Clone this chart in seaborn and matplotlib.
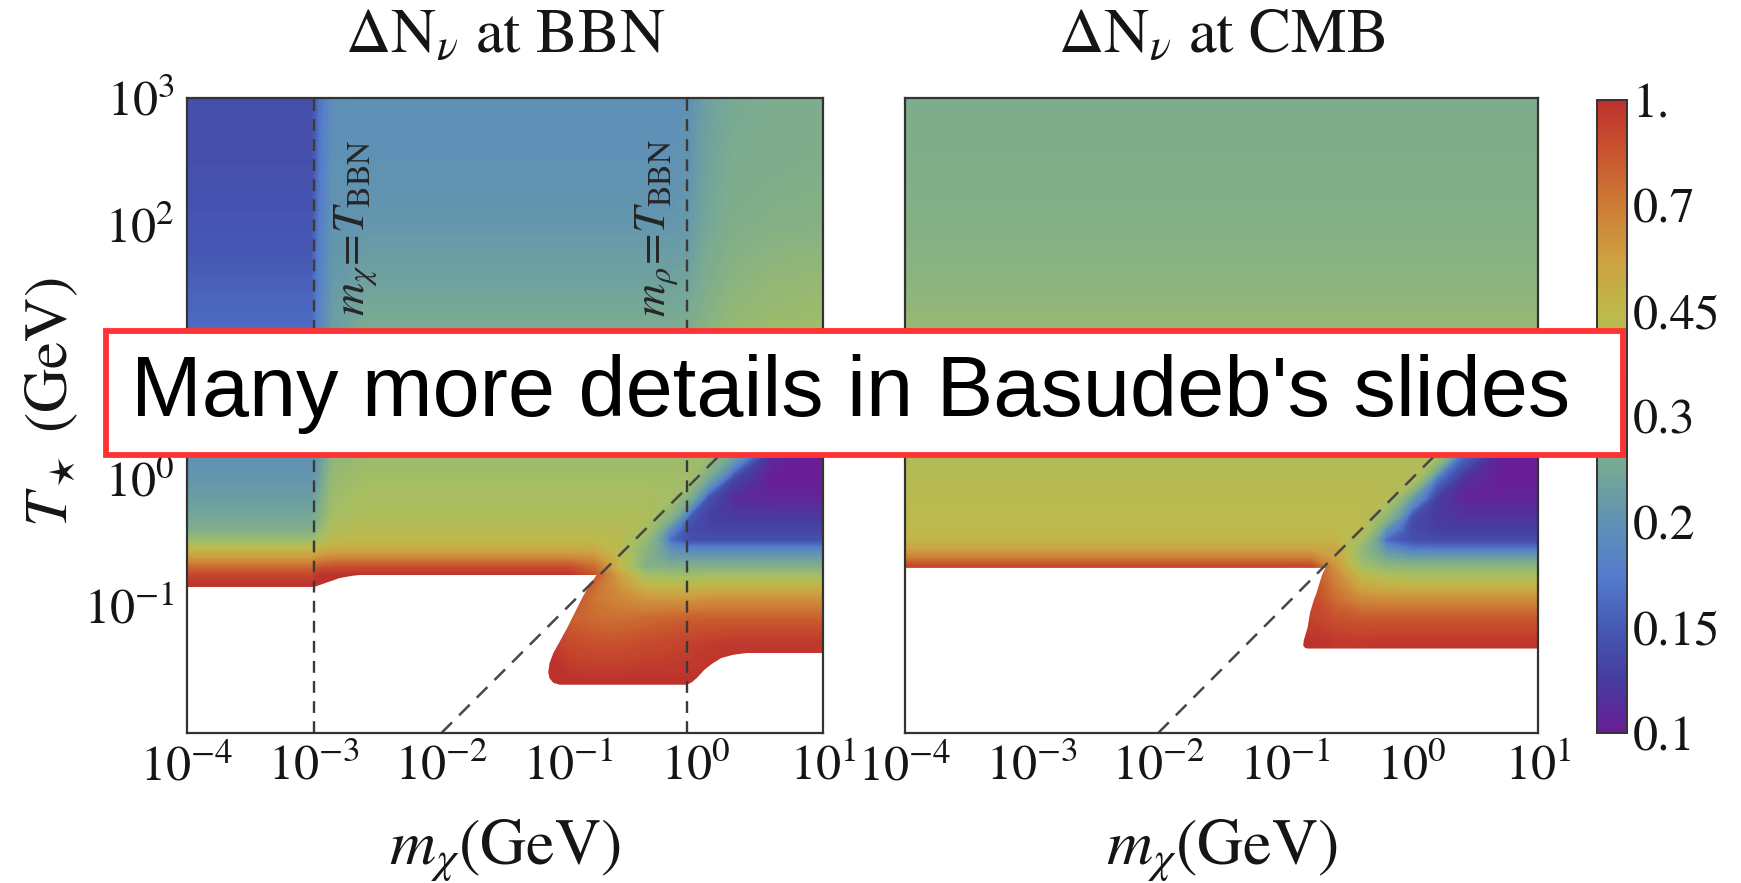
"""
Delta N_nu at BBN / CMB over (m_chi, T_star) -- two log-log heat maps + colour bar,
with the white banner on top.  Axes are in log10 units, ticks labelled 10^k.
"""
import numpy as np
import matplotlib
matplotlib.use("Agg")
import matplotlib.pyplot as plt
import seaborn as sns
from matplotlib.colors import LinearSegmentedColormap, FuncNorm
from matplotlib.cm import ScalarMappable
from matplotlib.patches import Rectangle

sns.set_style("white")
plt.rcParams["font.family"] = ["STIXGeneral", "DejaVu Serif"]
plt.rcParams["mathtext.fontset"] = "stix"
plt.rcParams["text.color"] = "#151515"
plt.rcParams["xtick.labelcolor"] = "#151515"
plt.rcParams["ytick.labelcolor"] = "#151515"

# ── data (log10 GeV) ──────────────────────────────────────────────────
LOGT = [-2.0, -1.6, -1.3, -1.1, -0.95, -0.85, -0.76, -0.69, -0.62, -0.55, -0.48,
        -0.4, -0.3, -0.15, 0.0, 0.2, 0.5, 1.0, 1.5, 2.0, 2.5, 3.0]

BBN_LOGM = [-4.0, -3.5, -3.02, -2.96, -2.85, -2.6, -2.0, -1.5, -1.2, -1.0, -0.8,
            -0.6, -0.4, -0.2, -0.05, 0.1, 0.3, 0.6, 1.0]
# rows follow LOGT (bottom -> top), columns follow BBN_LOGM
BBN_DN = [
    [1.00, 1.00, 1.00, 1.00, 1.00, 1.00, 1.00, 1.00, 1.00, 1.00, 1.00, 1.00, 1.00, 1.00, 1.00, 1.00, 1.00, 1.00, 1.00],
    [1.00, 1.00, 1.00, 1.00, 1.00, 1.00, 1.00, 1.00, 1.00, 1.00, 1.00, 1.00, 1.00, 1.00, 1.00, 1.00, 1.00, 1.00, 1.00],
    [1.00, 1.00, 1.00, 1.00, 1.00, 1.00, 1.00, 1.00, 1.00, 0.88, 0.85, 0.85, 0.88, 0.90, 0.92, 0.95, 0.97, 0.97, 0.97],
    [1.00, 1.00, 1.00, 1.00, 1.00, 1.00, 1.00, 1.00, 1.00, 0.80, 0.75, 0.74, 0.76, 0.78, 0.80, 0.80, 0.80, 0.80, 0.80],
    [1.00, 1.00, 1.00, 1.00, 1.00, 1.00, 1.00, 1.00, 1.00, 0.90, 0.72, 0.66, 0.60, 0.60, 0.60, 0.62, 0.62, 0.62, 0.62],
    [1.00, 1.00, 1.00, 1.00, 1.00, 1.00, 1.00, 1.00, 1.00, 1.00, 0.75, 0.60, 0.47, 0.46, 0.46, 0.47, 0.47, 0.47, 0.47],
    [0.90, 0.90, 0.90, 1.00, 1.00, 1.00, 1.00, 1.00, 1.00, 1.00, 0.85, 0.55, 0.37, 0.35, 0.35, 0.36, 0.36, 0.36, 0.36],
    [0.75, 0.75, 0.75, 0.82, 0.85, 0.85, 0.85, 0.85, 0.85, 0.85, 0.75, 0.45, 0.28, 0.27, 0.27, 0.27, 0.27, 0.27, 0.27],
    [0.57, 0.57, 0.57, 0.62, 0.65, 0.65, 0.65, 0.65, 0.65, 0.65, 0.62, 0.45, 0.28, 0.22, 0.22, 0.22, 0.22, 0.22, 0.22],
    [0.45, 0.45, 0.45, 0.47, 0.50, 0.50, 0.50, 0.50, 0.50, 0.50, 0.50, 0.42, 0.30, 0.20, 0.18, 0.18, 0.18, 0.18, 0.18],
    [0.33, 0.33, 0.33, 0.38, 0.44, 0.45, 0.45, 0.45, 0.45, 0.45, 0.45, 0.43, 0.33, 0.16, 0.14, 0.14, 0.14, 0.14, 0.14],
    [0.27, 0.27, 0.27, 0.32, 0.40, 0.42, 0.42, 0.42, 0.42, 0.42, 0.42, 0.42, 0.38, 0.19, 0.135, 0.13, 0.13, 0.13, 0.13],
    [0.245, 0.245, 0.245, 0.28, 0.37, 0.40, 0.40, 0.40, 0.40, 0.40, 0.40, 0.40, 0.40, 0.28, 0.15, 0.125, 0.12, 0.12, 0.12],
    [0.22, 0.22, 0.22, 0.25, 0.35, 0.38, 0.38, 0.38, 0.38, 0.38, 0.38, 0.38, 0.38, 0.37, 0.26, 0.14, 0.11, 0.105, 0.105],
    [0.21, 0.21, 0.21, 0.23, 0.33, 0.36, 0.36, 0.36, 0.36, 0.36, 0.36, 0.36, 0.36, 0.36, 0.36, 0.24, 0.13, 0.10, 0.10],
    [0.20, 0.20, 0.20, 0.21, 0.30, 0.34, 0.34, 0.34, 0.34, 0.34, 0.34, 0.34, 0.34, 0.34, 0.345, 0.35, 0.24, 0.11, 0.10],
    [0.18, 0.18, 0.18, 0.20, 0.26, 0.31, 0.31, 0.31, 0.31, 0.31, 0.31, 0.31, 0.31, 0.31, 0.32, 0.34, 0.36, 0.26, 0.12],
    [0.165, 0.165, 0.165, 0.185, 0.23, 0.27, 0.27, 0.27, 0.27, 0.27, 0.27, 0.27, 0.27, 0.27, 0.28, 0.31, 0.34, 0.36, 0.37],
    [0.155, 0.155, 0.155, 0.178, 0.215, 0.235, 0.235, 0.235, 0.235, 0.235, 0.235, 0.235, 0.235, 0.235, 0.24, 0.27, 0.30, 0.32, 0.33],
    [0.145, 0.145, 0.145, 0.172, 0.205, 0.21, 0.21, 0.21, 0.21, 0.21, 0.21, 0.21, 0.21, 0.21, 0.215, 0.245, 0.27, 0.28, 0.285],
    [0.14, 0.14, 0.14, 0.168, 0.20, 0.20, 0.20, 0.20, 0.20, 0.20, 0.20, 0.20, 0.20, 0.20, 0.205, 0.235, 0.26, 0.265, 0.27],
    [0.14, 0.14, 0.14, 0.165, 0.195, 0.20, 0.20, 0.20, 0.20, 0.20, 0.20, 0.20, 0.20, 0.20, 0.20, 0.23, 0.25, 0.26, 0.265],
]

CMB_LOGM = [-4.0, -2.0, -1.2, -1.0, -0.8, -0.6, -0.4, -0.2, 0.0, 0.2, 0.4, 0.7, 1.0]
CMB_DN = [
    [1.00, 1.00, 1.00, 1.00, 1.00, 1.00, 1.00, 1.00, 1.00, 1.00, 1.00, 1.00, 1.00],
    [1.00, 1.00, 1.00, 1.00, 1.00, 1.00, 1.00, 1.00, 1.00, 1.00, 1.00, 1.00, 1.00],
    [1.00, 1.00, 1.00, 1.00, 1.00, 0.97, 0.97, 0.98, 0.98, 0.98, 0.98, 0.98, 0.98],
    [1.00, 1.00, 1.00, 1.00, 0.92, 0.85, 0.82, 0.82, 0.82, 0.82, 0.82, 0.82, 0.82],
    [1.00, 1.00, 1.00, 1.00, 0.90, 0.75, 0.65, 0.63, 0.63, 0.63, 0.63, 0.63, 0.63],
    [1.00, 1.00, 1.00, 1.00, 0.90, 0.70, 0.53, 0.49, 0.48, 0.48, 0.48, 0.48, 0.48],
    [1.00, 1.00, 1.00, 1.00, 0.90, 0.65, 0.45, 0.39, 0.37, 0.37, 0.37, 0.37, 0.37],
    [0.90, 0.90, 0.90, 0.90, 0.90, 0.60, 0.36, 0.31, 0.30, 0.30, 0.30, 0.30, 0.30],
    [0.68, 0.68, 0.68, 0.68, 0.68, 0.55, 0.33, 0.24, 0.22, 0.22, 0.22, 0.22, 0.22],
    [0.55, 0.55, 0.55, 0.55, 0.55, 0.53, 0.32, 0.20, 0.17, 0.17, 0.17, 0.17, 0.17],
    [0.47, 0.47, 0.47, 0.47, 0.47, 0.47, 0.36, 0.16, 0.14, 0.135, 0.135, 0.135, 0.135],
    [0.45, 0.45, 0.45, 0.45, 0.45, 0.45, 0.44, 0.20, 0.135, 0.125, 0.125, 0.125, 0.125],
    [0.44, 0.44, 0.44, 0.44, 0.44, 0.44, 0.44, 0.30, 0.14, 0.12, 0.115, 0.115, 0.115],
    [0.43, 0.43, 0.43, 0.43, 0.43, 0.43, 0.43, 0.43, 0.22, 0.125, 0.105, 0.105, 0.105],
    [0.42, 0.42, 0.42, 0.42, 0.42, 0.42, 0.42, 0.42, 0.42, 0.17, 0.115, 0.10, 0.10],
    [0.40, 0.40, 0.40, 0.40, 0.40, 0.40, 0.40, 0.40, 0.40, 0.40, 0.17, 0.105, 0.10],
    [0.38, 0.38, 0.38, 0.38, 0.38, 0.38, 0.38, 0.38, 0.38, 0.38, 0.38, 0.17, 0.11],
    [0.34, 0.34, 0.34, 0.34, 0.34, 0.34, 0.34, 0.34, 0.34, 0.34, 0.34, 0.34, 0.34],
    [0.30, 0.30, 0.30, 0.30, 0.30, 0.30, 0.30, 0.30, 0.30, 0.30, 0.30, 0.30, 0.30],
    [0.28, 0.28, 0.28, 0.28, 0.28, 0.28, 0.28, 0.28, 0.28, 0.28, 0.28, 0.28, 0.28],
    [0.27, 0.27, 0.27, 0.27, 0.27, 0.27, 0.27, 0.27, 0.27, 0.27, 0.27, 0.27, 0.27],
    [0.265, 0.265, 0.265, 0.265, 0.265, 0.265, 0.265, 0.265, 0.265, 0.265, 0.265, 0.265, 0.265],
]

# excluded (white) regions, traced along their edges
BBN_WHITE_LOGM = [-4.0, -4.0, -3.0, -2.9, -2.8, -2.7, -2.64, -0.78, -0.80, -0.85, -0.89, -0.95,
                  -1.01, -1.07, -1.12, -1.15, -1.16, -1.15, -1.12, -1.07, -0.07, -0.03, 0.01,
                  0.07, 0.135, 0.2, 0.29, 0.4, 1.0, 1.0]
BBN_WHITE_LOGT = [-2.0, -0.85, -0.85, -0.815, -0.78, -0.762, -0.756, -0.756, -0.785, -0.86, -0.93,
                  -1.05, -1.17, -1.28, -1.37, -1.45, -1.52, -1.57, -1.605, -1.62, -1.62, -1.60,
                  -1.565, -1.50, -1.45, -1.41, -1.385, -1.37, -1.37, -2.0]
CMB_WHITE_LOGM = [-4.0, -4.0, -0.68, -0.70, -0.72, -0.75, -0.77, -0.80, -0.82, -0.85, -0.855,
                  -0.84, -0.82, 1.0, 1.0]
CMB_WHITE_LOGT = [-2.0, -0.70, -0.70, -0.74, -0.80, -0.90, -0.95, -1.05, -1.17, -1.27, -1.31,
                  -1.33, -1.335, -1.335, -2.0]

# guide lines
DIAG_LOGM = [-2.0, 1.2]          # T_star = m_chi
DIAG_LOGT = [-2.0, 1.2]
BBN_VLINES = [-3.0, -0.07]       # m_chi = T_BBN, m_rho = T_BBN
BBN_VLABELS = [r"$m_\chi\!=\!T_{\rm BBN}$", r"$m_\rho\!=\!T_{\rm BBN}$"]
BBN_VLABEL_LOGM = [-2.67, -0.30]
BBN_VLABEL_LOGT = [1.98, 1.98]

X_TICKS = [-4, -3, -2, -1, 0, 1]
Y_TICKS = [-1, 0, 1, 2, 3]
Y_TICKLABELS = [r"$10^{-1}$", r"$10^{0}$", "", r"$10^{2}$", r"$10^{3}$"]  # 10^1 sits under the banner
TITLES = [r"$\Delta\mathrm{N}_\nu$ at BBN", r"$\Delta\mathrm{N}_\nu$ at CMB"]

CBAR_TICKS = [0.1, 0.15, 0.2, 0.3, 0.45, 0.7, 1.0]
CBAR_LABELS = ["0.1", "0.15", "0.2", "0.3", "0.45", "0.7", "1."]
CMAP_POS = [0.0, 0.083, 0.167, 0.25, 0.333, 0.417, 0.5, 0.583, 0.667, 0.75, 0.833, 0.917, 1.0]
CMAP_HEX = ["#691e96", "#463ca0", "#465ab4", "#557dcd", "#5f91b4", "#76a896", "#8cb47d",
            "#a5be64", "#beb94b", "#cda041", "#cd7d37", "#c8552d", "#be322d"]

BANNER = "Many more details in Basudeb's slides"

# ── colour scale: the bar ticks sit at equal spacing ─────────────────
cmap = LinearSegmentedColormap.from_list("mma_rainbow", list(zip(CMAP_POS, CMAP_HEX)))
_pos = np.linspace(0, 1, len(CBAR_TICKS))
_lt = np.log10(CBAR_TICKS)


def _fwd(v):
    return np.interp(np.log10(np.clip(v, 1e-3, None)), _lt, _pos)


def _inv(p):
    return 10 ** np.interp(p, _pos, _lt)


norm = FuncNorm((_fwd, _inv), vmin=0.1, vmax=1.0)
levels = _inv(np.linspace(0, 1, 181))

# ── figure ─────────────────────────────────────────────────────────────
W, H = 1741, 883
fig = plt.figure(figsize=(W / 100, H / 100), dpi=100)


def px_box(x0, y0, x1, y1):
    return [x0 / W, 1 - y1 / H, (x1 - x0) / W, (y1 - y0) / H]


ax_bbn = fig.add_axes(px_box(187, 98, 823, 733))
ax_cmb = fig.add_axes(px_box(905, 98, 1538, 733))
cax = fig.add_axes(px_box(1597, 100, 1627, 733))

panels = [
    (ax_bbn, BBN_LOGM, BBN_DN, BBN_WHITE_LOGM, BBN_WHITE_LOGT),
    (ax_cmb, CMB_LOGM, CMB_DN, CMB_WHITE_LOGM, CMB_WHITE_LOGT),
]
for i, (ax, logm, dn, wm, wt) in enumerate(panels):
    ax.contourf(logm, LOGT, np.array(dn), levels=levels, cmap=cmap, norm=norm,
                extend="both", antialiased=False, zorder=1)
    ax.fill(wm, wt, color="white", lw=0, zorder=2)
    sns.lineplot(x=DIAG_LOGM, y=DIAG_LOGT, ax=ax, color="#474747", lw=1.8,
                 linestyle=(0, (6, 4)), estimator=None, sort=False, zorder=3)
    ax.set_xlim(-4, 1)
    ax.set_ylim(-2, 3)
    ax.set_xticks(X_TICKS)
    ax.set_xticklabels([f"$10^{{{k}}}$" for k in X_TICKS])
    ax.set_yticks(Y_TICKS)
    ax.set_yticklabels(Y_TICKLABELS if i == 0 else [])
    ax.tick_params(direction="in", length=11, width=1.5, color="#333333",
                   labelsize=36, pad=9, top=False, right=False)
    for sp in ax.spines.values():
        sp.set_color("#333333")
        sp.set_linewidth(1.6)
        sp.set_zorder(4)
    ax.text(0.5, 1.096, TITLES[i], transform=ax.transAxes, ha="center", va="center",
            fontsize=45)
    ax.text(0.5, -0.185, r"$m_\chi$(GeV)", transform=ax.transAxes, ha="center",
            va="center", fontsize=46)

for m in BBN_VLINES:
    ax_bbn.axvline(m, color="#3a3a3a", lw=1.7, ls=(0, (5, 3.5)), zorder=3)
for lab, xm, yt in zip(BBN_VLABELS, BBN_VLABEL_LOGM, BBN_VLABEL_LOGT):
    ax_bbn.text(xm, yt, lab, rotation=90, ha="center", va="center", fontsize=33,
                color="#262626", zorder=3)

fig.text(52 / W, 1 - 402 / H, r"$T_\star$ (GeV)", rotation=90, ha="center",
         va="center", fontsize=44)

cb = fig.colorbar(ScalarMappable(norm=norm, cmap=cmap), cax=cax)
cb.set_ticks(CBAR_TICKS)
cb.set_ticklabels(CBAR_LABELS)
cax.tick_params(direction="in", length=5, width=1.2, color="#333333",
                labelsize=36, pad=4)
cax.minorticks_off()
cb.outline.set_edgecolor("#333333")
cb.outline.set_linewidth(1.4)

# banner laid over the plot
fig.add_artist(Rectangle((105.5 / W, 1 - 455 / H), (1623 - 105.5) / W, (455 - 331) / H,
                         transform=fig.transFigure, facecolor="white",
                         edgecolor="#ff3333", lw=4.2, zorder=20))
fig.text(131 / W, 1 - 394 / H, BANNER, family="Liberation Sans", fontsize=61,
         color="black", ha="left", va="center", zorder=21)

fig.savefig("out.png", dpi=100)
